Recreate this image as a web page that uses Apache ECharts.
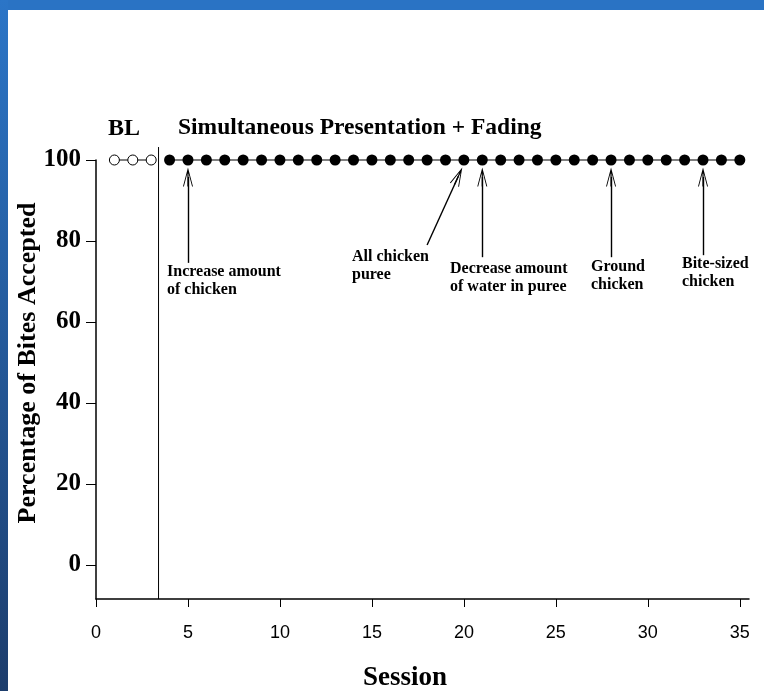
<!DOCTYPE html>
<html>
<head>
<meta charset="utf-8">
<script src="https://cdn.jsdelivr.net/npm/echarts@6/dist/echarts.min.js"></script>
<style>
  html, body { margin: 0; padding: 0; background: #fff; }
  #wrap { position: relative; width: 764px; height: 691px; overflow: hidden; }
  #topbar { position: absolute; left: 0; top: 0; width: 764px; height: 10px; background: #2a73c4; }
  #leftbar { position: absolute; left: 0; top: 0; width: 8px; height: 691px; background: linear-gradient(#2b75c7, #1d3d6c); }
  #chart { position: absolute; left: 0; top: 0; width: 764px; height: 691px; }
</style>
</head>
<body>
<div id="wrap">
  <div id="chart"></div>
  <div id="topbar"></div>
  <div id="leftbar"></div>
</div>
<script>
// sessions and percentages
const blSessions = [1, 2, 3];
const blValues = [100, 100, 100];
const txSessions = [4, 5, 6, 7, 8, 9, 10, 11, 12, 13, 14, 15, 16, 17, 18, 19, 20,
  21, 22, 23, 24, 25, 26, 27, 28, 29, 30, 31, 32, 33, 34, 35];
const txValues = [100, 100, 100, 100, 100, 100, 100, 100, 100, 100, 100, 100, 100, 100, 100, 100, 100,
  100, 100, 100, 100, 100, 100, 100, 100, 100, 100, 100, 100, 100, 100, 100];
const yTicks = [0, 20, 40, 60, 80, 100];
// phase change line (session 3.4), from above the top to the x axis
const phaseX = [3.4, 3.4];
const phaseY = [103.2, -8.4];
// arrows: [fromSession, fromPct, toSession, toPct]
const arrows = [
  [5, 74.6, 5, 95.8],
  [18.0, 79.0, 19.7, 96.0],
  [21, 76.0, 21, 95.8],
  [28, 76.0, 28, 95.8],
  [33, 76.5, 33, 95.8]
];
const notes = [
  'Increase amount\nof chicken',
  'All chicken\npuree',
  'Decrease amount\nof water in puree',
  'Ground\nchicken',
  'Bite-sized\nchicken'
];
const notePos = [[167, 263], [352, 248], [450, 260], [591, 258], [682, 255]];

const serif = '"Liberation Serif", "Times New Roman", serif';
const arrowHead = 'path://M5,0 L10,20 L9.1,20 L5.6,6 L5.6,20 L4.4,20 L4.4,6 L0.9,20 L0,20 Z';

const chart = echarts.init(document.getElementById('chart'));
chart.setOption({
  animation: false,
  grid: { left: 96, top: 160, width: 653, height: 439 },
  xAxis: {
    type: 'value', min: 0, max: 35.5, interval: 5,
    axisLine: { onZero: false, lineStyle: { color: '#000', width: 1.5 } },
    axisTick: { length: 8, lineStyle: { color: '#000' } },
    axisLabel: {
      color: '#000', fontSize: 18, margin: 25,
      fontFamily: '"Liberation Sans Narrow", "Liberation Sans", Arial, sans-serif',
      showMaxLabel: false
    },
    splitLine: { show: false }
  },
  yAxis: {
    type: 'value', min: -8.4, max: 100,
    axisLine: { show: true, lineStyle: { color: '#000', width: 1.5 } },
    axisTick: { show: true, length: 10, customValues: yTicks, lineStyle: { color: '#000' } },
    axisLabel: {
      color: '#000', fontSize: 25, fontWeight: 'bold', fontFamily: serif, margin: 15,
      customValues: yTicks
    },
    splitLine: { show: false }
  },
  series: [
    {
      type: 'line', clip: false,
      data: blSessions.map((s, i) => [s, blValues[i]]),
      symbol: 'circle', symbolSize: 10,
      lineStyle: { color: '#000', width: 1 },
      itemStyle: { color: '#fff', borderColor: '#000', borderWidth: 1 }
    },
    {
      type: 'line', clip: false,
      data: txSessions.map((s, i) => [s, txValues[i]]),
      symbol: 'circle', symbolSize: 11,
      lineStyle: { color: '#000', width: 1.2 },
      itemStyle: { color: '#000' },
      markLine: {
        silent: true, symbol: ['none', arrowHead], symbolSize: [10, 19],
        lineStyle: { color: '#000', width: 1.4, type: 'solid' },
        itemStyle: { color: '#000' },
        label: { show: false },
        data: arrows.map(a => [{ coord: [a[0], a[1]] }, { coord: [a[2], a[3]] }])
      }
    },
    {
      type: 'line', clip: false, silent: true,
      data: phaseX.map((x, i) => [x, phaseY[i]]),
      symbol: 'none',
      lineStyle: { color: '#000', width: 1 }
    }
  ],
  graphic: [
    { type: 'text', left: 108, top: 117, style: { text: 'BL', font: 'bold 24px ' + serif, fill: '#000' } },
    { type: 'text', left: 178, top: 116, style: { text: 'Simultaneous Presentation + Fading', font: 'bold 23.5px ' + serif, fill: '#000' } },
    { type: 'text', x: 405, y: 678, style: { text: 'Session', font: 'bold 27px ' + serif, fill: '#000', align: 'center', verticalAlign: 'middle' } },
    { type: 'text', x: 28, y: 363, rotation: Math.PI / 2, style: { text: 'Percentage of Bites Accepted', font: 'bold 26px ' + serif, fill: '#000', align: 'center', verticalAlign: 'middle' } }
  ].concat(notes.map((t, i) => ({
    type: 'text', left: notePos[i][0], top: notePos[i][1],
    style: { text: t, font: 'bold 16px ' + serif, lineHeight: 18, fill: '#000' }
  })))
});
</script>
</body>
</html>
